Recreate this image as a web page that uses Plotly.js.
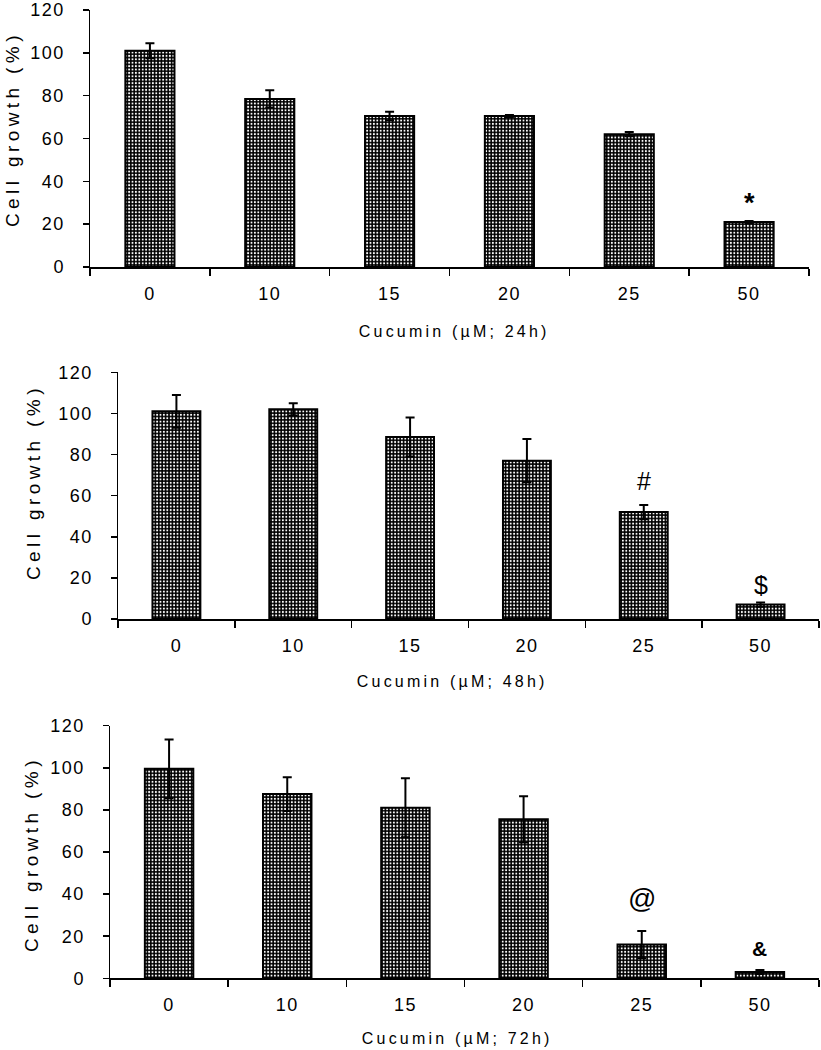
<!DOCTYPE html>
<html>
<head>
<meta charset="utf-8">
<script src="https://cdn.plot.ly/plotly-3.0.1.min.js"></script>
<style>
  html, body { margin: 0; padding: 0; background: #fff; }
  #chart { width: 821px; height: 1050px; }
  .annotation[data-index="0"] text, .annotation[data-index="1"] text, .annotation[data-index="2"] text { letter-spacing: 3.2px; }
  .annotation[data-index="3"] text, .annotation[data-index="4"] text, .annotation[data-index="5"] text { letter-spacing: 4.4px; }
  .xtick text, .ytick text, .x2tick text, .y2tick text, .x3tick text, .y3tick text { letter-spacing: 1.5px; }
</style>
</head>
<body>
<div id="chart"></div>
<script>
// ---- data ----
const doses = ['0', '10', '15', '20', '25', '50'];

const growth24 = [101, 78.5, 70.5, 70.5, 62, 21];
const err24    = [3.5, 4, 2, 0.5, 1, 0.5];

const growth48 = [101, 102, 88.5, 77, 52, 7];
const err48    = [8, 3, 9.5, 10.5, 3.5, 1];

const growth72 = [99.5, 87.5, 81, 75.5, 16, 3];
const err72    = [14, 8, 14, 11, 6.5, 1];

const xTitles = ['Cucumin (\u00b5M; 24h)', 'Cucumin (\u00b5M; 48h)', 'Cucumin (\u00b5M; 72h)'];
const yTitle = 'Cell growth (%)';

// significance marks: panel, dose, y position, symbol
const markPanel = [1, 2, 2, 3, 3];
const markDose  = ['50', '25', '50', '25', '50'];
const markY     = [30, 67, 16.5, 38, 14];
const markText  = ['<b>*</b>', '#', '$', '@', '<b>&amp;</b>'];
const markSize  = [27, 25, 25, 28, 21];

// ---- styling ----
const FONT = 'Liberation Sans, Arial, sans-serif';
const W = 821, H = 1050;

function barTrace(y, e, xa, ya) {
  return {
    type: 'bar',
    x: doses,
    y: y,
    xaxis: xa,
    yaxis: ya,
    showlegend: false,
    marker: {
      color: 'black',
      line: { color: 'black', width: 2 },
      pattern: { shape: '.', bgcolor: 'black', fgcolor: 'white', size: 3.4, solidity: 0.28, fillmode: 'replace' }
    },
    error_y: { type: 'data', array: e, visible: true, color: 'black', thickness: 2, width: 4.5 }
  };
}

const data = [
  barTrace(growth24, err24, 'x', 'y'),
  barTrace(growth48, err48, 'x2', 'y2'),
  barTrace(growth72, err72, 'x3', 'y3')
];

// panel geometry in pixels: plot box and title centres
const panels = [
  { l: 90,  r: 809, t: 10,    b: 267,   xtx: 454, xty: 331,  ytx: 12, yty: 129 },
  { l: 118, r: 819, t: 372.3, b: 619,   xtx: 452, xty: 681,  ytx: 33, yty: 482 },
  { l: 110, r: 819, t: 725.7, b: 978.3, xtx: 457, xty: 1038, ytx: 31, yty: 854 }
];

function xAxis(p, i) {
  return {
    domain: [p.l / W, p.r / W],
    anchor: i === 0 ? 'y' : 'y' + (i + 1),
    type: 'category',
    range: [-0.5, 5.5],
    showline: true, linecolor: 'black', linewidth: 1.5,
    ticks: 'outside', tickson: 'boundaries', ticklen: 7, tickwidth: 1.5, tickcolor: 'black',
    ticklabelstandoff: 10,
    showgrid: false, zeroline: false,
    tickfont: { family: FONT, size: 18, color: 'black' },
    fixedrange: true
  };
}
function yAxis(p, i) {
  return {
    domain: [1 - p.b / H, 1 - p.t / H],
    anchor: i === 0 ? 'x' : 'x' + (i + 1),
    range: [0, 120],
    tickvals: [0, 20, 40, 60, 80, 100, 120],
    showline: true, linecolor: 'black', linewidth: 1.5,
    ticks: 'outside', ticklen: 6, tickwidth: 1.5, tickcolor: 'black',
    ticklabelstandoff: 14,
    ticklabeloverflow: 'allow',
    showgrid: false, zeroline: false,
    tickfont: { family: FONT, size: 18, color: 'black' },
    fixedrange: true
  };
}

const annotations = [];
// axis titles (indices 0-2: x titles, 3-5: y titles)
panels.forEach((p, i) => {
  annotations.push({
    xref: 'paper', yref: 'paper', x: p.xtx / W, y: 1 - p.xty / H,
    xanchor: 'center', yanchor: 'middle', showarrow: false,
    text: xTitles[i], font: { family: FONT, size: 16, color: 'black' }
  });
});
panels.forEach((p, i) => {
  annotations.push({
    xref: 'paper', yref: 'paper', x: p.ytx / W, y: 1 - p.yty / H,
    xanchor: 'center', yanchor: 'middle', showarrow: false, textangle: -90,
    text: yTitle, font: { family: FONT, size: 19, color: 'black' }
  });
});
// significance marks
markText.forEach((t, k) => {
  annotations.push({
    xref: markPanel[k] === 1 ? 'x' : 'x' + markPanel[k],
    yref: markPanel[k] === 1 ? 'y' : 'y' + markPanel[k],
    x: doses.indexOf(markDose[k]),
    y: markY[k],
    text: t, showarrow: false,
    font: { family: FONT, size: markSize[k], color: 'black' }
  });
});

const layout = {
  width: W, height: H,
  margin: { l: 0, r: 0, t: 0, b: 0 },
  paper_bgcolor: 'white', plot_bgcolor: 'white',
  bargap: 0.59,
  showlegend: false,
  annotations: annotations
};
panels.forEach((p, i) => {
  const sx = i === 0 ? '' : String(i + 1);
  layout['xaxis' + sx] = xAxis(p, i);
  layout['yaxis' + sx] = yAxis(p, i);
});

Plotly.newPlot('chart', data, layout, { staticPlot: true, displayModeBar: false });
</script>
</body>
</html>
